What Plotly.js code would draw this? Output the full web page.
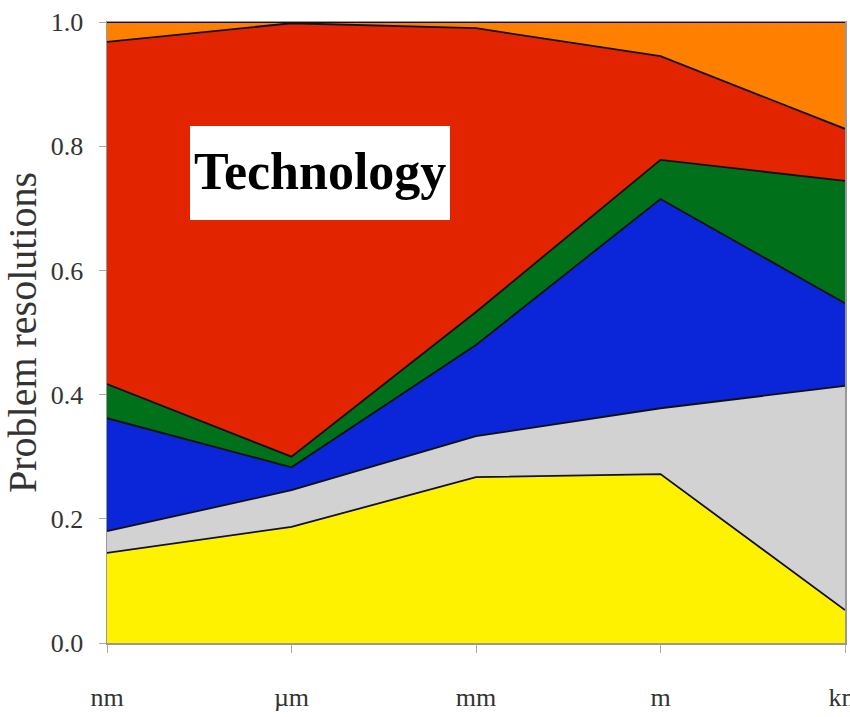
<!DOCTYPE html>
<html><head><meta charset="utf-8">
<script src="https://cdn.plot.ly/plotly-3.0.1.min.js"></script>
<style>html,body{margin:0;padding:0;background:#fff;}#chart{width:850px;height:717px;}</style>
</head><body><div id="chart"></div>
<script>
const scales = ["nm", "µm", "mm", "m", "km"];
const seriesNames = ["Yellow", "Grey", "Blue", "Green", "Red", "Orange"];
const yellow = [0.145, 0.187, 0.267, 0.272, 0.053];
const grey   = [0.035, 0.059, 0.066, 0.106, 0.361];
const blue   = [0.182, 0.037, 0.147, 0.337, 0.133];
const green  = [0.055, 0.017, 0.053, 0.063, 0.197];
const red    = [0.551, 0.698, 0.457, 0.167, 0.084];
const orange = [0.032, 0.002, 0.010, 0.055, 0.172];
const yTicks = [0, 0.2, 0.4, 0.6, 0.8, 1.0];
const yTickText = ["0.0", "0.2", "0.4", "0.6", "0.8", "1.0"];

const seriesValues = [yellow, grey, blue, green, red, orange];
const colors = ["#fff200", "#d2d2d2", "#0a26d8", "#00701a", "#e22400", "#ff7f00"];

const traces = seriesValues.map((vals, i) => ({
  type: "scatter",
  mode: "lines",
  x: scales,
  y: vals,
  name: seriesNames[i],
  stackgroup: "one",
  fillcolor: colors[i],
  line: {color: "#111", width: 1.8},
  hoverinfo: "skip"
}));

const W = 738, H = 621, L = 107, T = 22;
const layout = {
  width: 850, height: 717,
  margin: {l: 107, r: 5, t: 22, b: 74},
  paper_bgcolor: "#fff", plot_bgcolor: "#fff",
  showlegend: false,
  font: {family: "Liberation Serif, Times New Roman, serif", color: "#333"},
  xaxis: {
    type: "category", range: [0, 4], showgrid: false, zeroline: false,
    ticks: "outside", ticklen: 8, tickcolor: "#aaa", tickwidth: 1,
    showline: true, linecolor: "#999", linewidth: 1.5, mirror: true,
    ticklabelstandoff: 22,
    tickfont: {size: 26, family: "Liberation Serif, serif", color: "#333"}
  },
  yaxis: {
    range: [0, 1], showgrid: false, zeroline: false,
    tickvals: yTicks, ticktext: yTickText,
    ticks: "outside", ticklen: 7, tickcolor: "#aaa", tickwidth: 1,
    showline: true, linecolor: "#999", linewidth: 1.5, mirror: true,
    ticklabelstandoff: 10,
    tickfont: {size: 26, family: "Liberation Serif, serif", color: "#333"},
    title: {text: "Problem resolutions", standoff: 14,
      font: {size: 40, family: "Liberation Serif, serif", color: "#333"}}
  },
  shapes: [{
    type: "rect", xref: "paper", yref: "paper",
    x0: (190 - L) / W, x1: (450 - L) / W,
    y0: 1 - (220 - T) / H, y1: 1 - (126 - T) / H,
    fillcolor: "#fff", line: {width: 0}, layer: "above"
  }],
  annotations: [{
    xref: "paper", yref: "paper",
    x: (320 - L) / W, y: 1 - (172 - T) / H,
    xanchor: "center", yanchor: "middle",
    text: "<b>Technology</b>", showarrow: false,
    font: {size: 52, family: "Liberation Serif, serif", color: "#000"}
  }]
};

Plotly.newPlot("chart", traces, layout, {displayModeBar: false, staticPlot: true});
</script>
</body></html>
